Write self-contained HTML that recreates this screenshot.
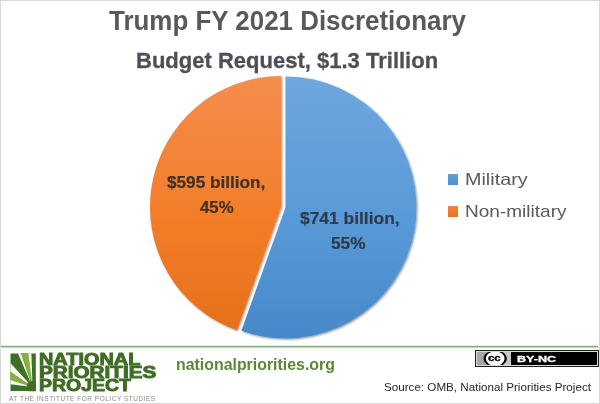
<!DOCTYPE html>
<html><head><meta charset="utf-8">
<style>
html,body{margin:0;padding:0;background:#fff;}
body{width:600px;height:404px;position:relative;overflow:hidden;font-family:"Liberation Sans",sans-serif;}
#frame{position:absolute;left:0;top:0;width:598px;height:402px;border:1px solid #d9d9d9;}
.t{position:absolute;white-space:nowrap;line-height:1;transform-origin:0 0;}
.sq{position:absolute;}
#gline{position:absolute;left:1px;top:345px;width:597px;height:3px;background:linear-gradient(#e3f1e3 0,#e3f1e3 1px,#80b07d 1px,#80b07d 2px,#bcdcb9 2px);}
</style></head><body>
<div id="frame"></div>

<svg style="position:absolute;left:0;top:0" width="600" height="404" viewBox="0 0 600 404">
  <defs>
    <linearGradient id="go" x1="0" y1="76" x2="0" y2="338" gradientUnits="userSpaceOnUse">
      <stop offset="0" stop-color="#f48d4e"/>
      <stop offset="0.55" stop-color="#f27d28"/>
      <stop offset="1" stop-color="#e66e1a"/>
    </linearGradient>
    <linearGradient id="gb" x1="0" y1="76" x2="0" y2="338" gradientUnits="userSpaceOnUse">
      <stop offset="0" stop-color="#6fa6de"/>
      <stop offset="0.5" stop-color="#5a9bd8"/>
      <stop offset="1" stop-color="#4689ca"/>
    </linearGradient>
    <filter id="sh" x="-10%" y="-10%" width="120%" height="120%">
      <feGaussianBlur in="SourceAlpha" stdDeviation="1.2"/>
      <feOffset dx="0.5" dy="1.2" result="b"/>
      <feComponentTransfer><feFuncA type="linear" slope="0.45"/></feComponentTransfer>
      <feMerge><feMergeNode/><feMergeNode in="SourceGraphic"/></feMerge>
    </filter>
  </defs>
  <g filter="url(#sh)">
  <path d="M281,207 L236.9,330.36 A131,131 0 0 1 281,76 Z" fill="url(#go)"/>
  <path d="M285.5,207.5 L285.5,76.5 A131,131 0 1 1 241.4,330.86 Z" fill="url(#gb)"/>
  </g>
  <!-- logo -->
  <defs><clipPath id="lc"><rect x="10.3" y="353.3" width="25.6" height="37.9"/></clipPath></defs>
  <g clip-path="url(#lc)">
    <rect x="10.3" y="353.3" width="25.6" height="37.9" fill="#3f6f26"/>
    <polygon points="17.9,353.3 21,353.3 32.5,387" fill="#f8fbef"/>
    <polygon points="21,353.3 28.3,353.3 32.5,387" fill="#89b03e"/>
    <polygon points="28.3,353.3 31.4,353.3 32.5,387" fill="#f8fbef"/>
    <polygon points="10.3,363 10.3,371.8 32.5,387" fill="#f8fbef"/>
    <polygon points="10.3,371.8 10.3,380 32.5,387" fill="#89b03e"/>
    <polygon points="10.3,380 10.3,384.3 32.5,387" fill="#f8fbef"/>
    <circle cx="32.5" cy="387" r="6" fill="#3f6f26"/>
  </g>
  <!-- CC badge -->
  <defs><clipPath id="ccc"><rect x="477" y="352" width="120" height="13"/></clipPath></defs>
  <g>
    <rect x="475" y="350" width="124" height="17" fill="#1e1e1e"/>
    <rect x="476" y="351" width="122" height="15" fill="#dcdcdc"/>
    <rect x="477" y="352" width="34" height="13" fill="#a6a8a6"/>
    <rect x="504" y="352" width="7" height="13" fill="#c6c8c6"/>
    <rect x="511" y="352" width="86" height="13" fill="#000"/>
    <g clip-path="url(#ccc)">
    <ellipse cx="495.2" cy="358.6" rx="11.6" ry="8.2" fill="#000"/>
    <ellipse cx="495.2" cy="358.6" rx="9.4" ry="7.2" fill="#fff"/>
    </g>
  </g>
</svg>

<div class="sq" style="left:448.2px;top:173.7px;width:10px;height:11px;background:linear-gradient(#62a0d8,#4d8ccd)"></div>
<div class="sq" style="left:448.2px;top:205.9px;width:10px;height:10.8px;background:linear-gradient(#f08540,#e8721f)"></div>

<div id="gline"></div>

<div class="t" id="title" style="left:109.01px;top:6.70px;font-size:27.76px;font-weight:bold;color:#595959;transform:scaleX(0.9344);letter-spacing:0px;font-family:'Liberation Sans',sans-serif;-webkit-text-stroke:0px #595959;">Trump FY 2021 Discretionary</div>
<div class="t" id="sub" style="left:136.45px;top:48.60px;font-size:22.97px;font-weight:bold;color:#4e4f56;transform:scaleX(0.9584);letter-spacing:0px;font-family:'Liberation Sans',sans-serif;-webkit-text-stroke:0.3px #4e4f56;">Budget Request, $1.3 Trillion</div>
<div class="t" id="l1" style="left:167.21px;top:175.20px;font-size:16.72px;font-weight:bold;color:#3d3129;transform:scaleX(1.0290);letter-spacing:0px;font-family:'Liberation Sans',sans-serif;-webkit-text-stroke:0.2px #3d3129;">$595 billion,</div>
<div class="t" id="l2" style="left:199.96px;top:200.00px;font-size:16.72px;font-weight:bold;color:#3d3129;transform:scaleX(1.0047);letter-spacing:0px;font-family:'Liberation Sans',sans-serif;-webkit-text-stroke:0.2px #3d3129;">45%</div>
<div class="t" id="l3" style="left:299.61px;top:211.30px;font-size:16.72px;font-weight:bold;color:#303a47;transform:scaleX(1.0417);letter-spacing:0px;font-family:'Liberation Sans',sans-serif;-webkit-text-stroke:0.2px #303a47;">$741 billion,</div>
<div class="t" id="l4" style="left:331.37px;top:236.00px;font-size:16.72px;font-weight:bold;color:#303a47;transform:scaleX(1.0315);letter-spacing:0px;font-family:'Liberation Sans',sans-serif;-webkit-text-stroke:0.2px #303a47;">55%</div>
<div class="t" id="m1" style="left:464.53px;top:171.70px;font-size:16.72px;font-weight:normal;color:#595959;transform:scaleX(1.1837);letter-spacing:0px;font-family:'Liberation Sans',sans-serif;-webkit-text-stroke:0px #595959;">Military</div>
<div class="t" id="m2" style="left:464.66px;top:203.50px;font-size:16.57px;font-weight:normal;color:#595959;transform:scaleX(1.1487);letter-spacing:0px;font-family:'Liberation Sans',sans-serif;-webkit-text-stroke:0px #595959;">Non-military</div>
<div class="t" id="url" style="left:175.59px;top:357.00px;font-size:15.99px;font-weight:bold;color:#5a8739;transform:scaleX(0.9941);letter-spacing:0px;font-family:'Liberation Sans',sans-serif;-webkit-text-stroke:0px #5a8739;">nationalpriorities.org</div>
<div class="t" id="src" style="left:383.74px;top:381.80px;font-size:11.34px;font-weight:normal;color:#262626;transform:scaleX(1.0272);letter-spacing:0px;font-family:'Liberation Sans',sans-serif;-webkit-text-stroke:0px #262626;">Source: OMB, National Priorities Project</div>
<div class="t" id="n1" style="left:38.96px;top:351.60px;font-size:15.99px;font-weight:bold;color:#3f6d24;transform:scaleX(1.2444);letter-spacing:0px;font-family:'Liberation Sans',sans-serif;-webkit-text-stroke:0.9px #3f6d24;">NATIONAL</div>
<div class="t" id="n2" style="left:39.23px;top:364.80px;font-size:15.84px;font-weight:bold;color:#3f6d24;transform:scaleX(1.3071);letter-spacing:0px;font-family:'Liberation Sans',sans-serif;-webkit-text-stroke:0.9px #3f6d24;">PRIORITIES</div>
<div class="t" id="n3" style="left:39.24px;top:377.20px;font-size:16.28px;font-weight:bold;color:#3f6d24;transform:scaleX(1.1978);letter-spacing:0px;font-family:'Liberation Sans',sans-serif;-webkit-text-stroke:0.9px #3f6d24;">PROJECT</div>
<div class="t" id="n4" style="left:9.04px;top:395.70px;font-size:7.12px;font-weight:normal;color:#8a8a8a;transform:scaleX(0.9060);letter-spacing:0.6px;font-family:'Liberation Sans',sans-serif;-webkit-text-stroke:0px #8a8a8a;">AT THE INSTITUTE FOR POLICY STUDIES</div>
<div class="t" id="by" style="left:517.02px;top:354.50px;font-size:8.72px;font-weight:bold;color:#ffffff;transform:scaleX(1.4401);letter-spacing:0px;font-family:'Liberation Sans',sans-serif;-webkit-text-stroke:0.3px #ffffff;">BY-NC</div>
<div class="t" id="cc" style="left:488.36px;top:354.00px;font-size:8.9px;font-weight:bold;color:#000000;transform:scaleX(1.2884);letter-spacing:0px;font-family:'Liberation Sans',sans-serif;-webkit-text-stroke:0.3px #000000;">cc</div>
</body></html>
